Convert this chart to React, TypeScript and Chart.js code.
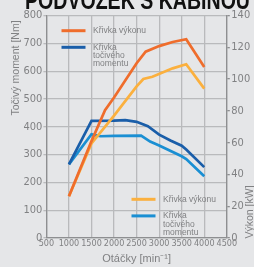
import React, { useEffect, useRef } from "react";
import { Chart, registerables } from "chart.js";

Chart.register(...registerables);

const powerRpmA = [1000, 1500, 1800, 2000, 2500, 2700, 3000, 3300, 3600, 4000];
const powerA = [26.3, 61, 80.5, 88.4, 110, 117.3, 120.8, 123.4, 125.1, 107.6];
const powerRpmB = [1000, 1500, 2000, 2500, 2650, 2850, 3300, 3600, 4000];
const powerB = [26.3, 59.5, 77, 95.4, 100.1, 101.5, 106.8, 109.4, 94];
const torqueRpmA = [1000, 1500, 2000, 2250, 2500, 2750, 3000, 3250, 3500, 3600, 4000];
const torqueA = [265, 421, 422, 424, 418, 402, 372, 351, 332, 318, 255];
const torqueRpmB = [1000, 1500, 1700, 2000, 2600, 2800, 3000, 3500, 3600, 4000];
const torqueB = [265, 373, 366, 367, 368, 347, 333, 294, 284, 222];

const title = "PODVOZEK S KABINOU";
const legendPower = "Křivka výkonu";
const legendTorque = ["Křivka", "točivého", "momentu"];
const yTitle = "Točivý moment [Nm]";
const y1Title = "Výkon [kW]";
const xTitle = "Otáčky [min⁻¹]";

const C_ORANGE = "#ef6d2c";
const C_YELLOW = "#fbb03e";
const C_DBLUE = "#1a5ea9";
const C_LBLUE = "#1a8fd3";
const C_BG = "#e5e6e8";
const C_GRID = "#b9babc";
const C_AXIS = "#8e8f91";
const C_TEXT = "#808183";
const NARROW = "'Liberation Sans Narrow', 'DejaVu Sans Condensed', sans-serif";
const SANS = "'Liberation Sans', Arial, sans-serif";

const pts = (xs: number[], ys: number[]) => xs.map((x, i) => ({ x, y: ys[i] }));

const decor = {
  id: "decor",
  beforeDraw(chart: any) {
    const ctx = chart.ctx;
    ctx.save();
    ctx.fillStyle = C_BG;
    ctx.fillRect(0, 0, chart.width, chart.height);
    ctx.restore();
  },
  afterDraw(chart: any) {
    const ctx = chart.ctx;
    const a = chart.chartArea;
    ctx.save();
    // title (clipped at top)
    ctx.fillStyle = "#111";
    ctx.font = `bold 25px ${SANS}`;
    ctx.textAlign = "left";
    ctx.textBaseline = "alphabetic";
    const w = ctx.measureText(title).width;
    const targetW = 225;
    ctx.save();
    ctx.translate(25, 8.5);
    ctx.scale(targetW / w, 1);
    ctx.fillText(title, 0, 0);
    ctx.restore();

    // axis titles
    ctx.fillStyle = C_TEXT;
    ctx.font = `10.5px ${SANS}`;
    ctx.textAlign = "center";
    ctx.textBaseline = "middle";
    ctx.save();
    ctx.translate(16, 68);
    ctx.rotate(-Math.PI / 2);
    ctx.fillText(yTitle, 0, 0);
    ctx.restore();
    ctx.save();
    ctx.translate(250.5, 212);
    ctx.rotate(-Math.PI / 2);
    ctx.fillText(y1Title, 0, 0);
    ctx.restore();
    ctx.font = `11px ${SANS}`;
    ctx.fillText(xTitle, (a.left + a.right) / 2, 259);

    // legends
    const drawLegend = (x0: number, y0: number, c1: string, c2: string) => {
      ctx.lineWidth = 3;
      ctx.lineCap = "butt";
      ctx.strokeStyle = c1;
      ctx.beginPath();
      ctx.moveTo(x0, y0);
      ctx.lineTo(x0 + 24, y0);
      ctx.stroke();
      ctx.strokeStyle = c2;
      ctx.beginPath();
      ctx.moveTo(x0, y0 + 16.6);
      ctx.lineTo(x0 + 24, y0 + 16.6);
      ctx.stroke();
      ctx.fillStyle = C_TEXT;
      ctx.font = `8.5px ${SANS}`;
      ctx.textAlign = "left";
      ctx.textBaseline = "middle";
      ctx.fillText(legendPower, x0 + 31.5, y0);
      legendTorque.forEach((t, i) => ctx.fillText(t, x0 + 31.5, y0 + 16.6 + i * 8.3));
    };
    drawLegend(61.5, 30.7, C_ORANGE, C_DBLUE);
    drawLegend(131.5, 199.3, C_YELLOW, C_LBLUE);
    ctx.restore();
  },
};

export default function App() {
  const ref = useRef<HTMLCanvasElement | null>(null);
  useEffect(() => {
    document.body.style.margin = "0";
    const canvas = ref.current!;
    const tickFont = { family: NARROW, size: 11 };
    const plain = (v: any) => String(v);
    const chart = new Chart(canvas, {
      type: "line",
      data: {
        datasets: [
          { label: "Křivka výkonu", data: pts(powerRpmA, powerA), borderColor: C_ORANGE, yAxisID: "y1" },
          { label: "Křivka výkonu 2", data: pts(powerRpmB, powerB), borderColor: C_YELLOW, yAxisID: "y1" },
          { label: "Křivka točivého momentu", data: pts(torqueRpmA, torqueA), borderColor: C_DBLUE, yAxisID: "y" },
          { label: "Křivka točivého momentu 2", data: pts(torqueRpmB, torqueB), borderColor: C_LBLUE, yAxisID: "y" },
        ].map((d) => ({ ...d, borderWidth: 2.7, pointRadius: 0, tension: 0, fill: false })),
      },
      options: {
        animation: false,
        responsive: false,
        maintainAspectRatio: false,
        layout: { padding: { top: 15.6, left: 0, right: 0, bottom: 0 } },
        plugins: { legend: { display: false }, tooltip: { enabled: false }, title: { display: false } },
        scales: {
          x: {
            type: "linear",
            min: 500,
            max: 4500,
            ticks: { stepSize: 500, color: C_TEXT, font: { family: NARROW, size: 9 }, padding: 0, maxRotation: 0, autoSkip: false, callback: plain },
            grid: { color: C_GRID, lineWidth: 1.3, drawTicks: false },
            border: { color: C_AXIS, width: 1.3 },
            afterFit: (s: any) => { s.height = 29; },
          },
          y: {
            position: "left",
            min: 0,
            max: 800,
            ticks: { stepSize: 100, color: C_TEXT, font: tickFont, padding: 1, callback: plain },
            grid: { color: C_GRID, lineWidth: 1.3, tickLength: 3 },
            border: { color: C_AXIS, width: 1.3 },
            afterFit: (s: any) => { s.width = 46.4; },
          },
          y1: {
            position: "right",
            min: 0,
            max: 140,
            ticks: { stepSize: 10, color: C_TEXT, font: tickFont, padding: 1.5, callback: plain },
            grid: { drawOnChartArea: false, color: C_AXIS, lineWidth: 1.3, tickLength: 3 },
            border: { color: C_AXIS, width: 1.3 },
            afterFit: (s: any) => { s.width = 27.2; },
          },
        },
      } as any,
      plugins: [decor],
    });
    return () => chart.destroy();
  }, []);
  return (
    <div style={{ width: 254, height: 267, position: "relative", overflow: "hidden" }}>
      <canvas ref={ref} width={254} height={267} style={{ display: "block", width: 254, height: 267 }} />
    </div>
  );
}
